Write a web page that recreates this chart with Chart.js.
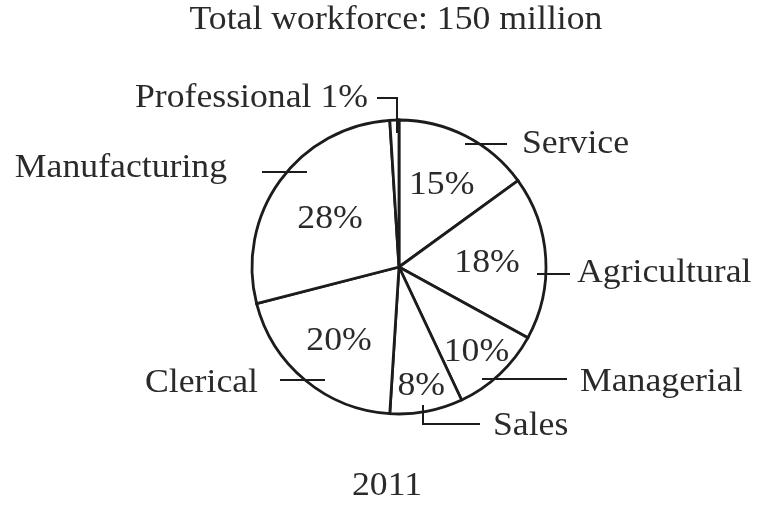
<!DOCTYPE html>
<html>
<head>
<meta charset="utf-8">
<script src="https://cdn.jsdelivr.net/npm/chart.js@4.4.1/dist/chart.umd.min.js"></script>
<style>
  html, body { margin: 0; padding: 0; background: #ffffff; }
  #wrap { width: 758px; height: 508px; }
</style>
</head>
<body>
<div id="wrap"><canvas id="c" width="758" height="508"></canvas></div>
<script>
// ---- data ----
const categories = ['Service', 'Agricultural', 'Managerial', 'Sales', 'Clerical', 'Manufacturing', 'Professional'];
const shares = [15, 18, 10, 8, 20, 28, 1];
const percentLabels = ['15%', '18%', '10%', '8%', '20%', '28%', ''];
const outsideLabels = ['Service', 'Agricultural', 'Managerial', 'Sales', 'Clerical', 'Manufacturing', 'Professional 1%'];
const titleText = 'Total workforce: 150 million';
const yearText = '2011';

// ---- layout (label placement relative to pie centre) ----
const FONT = '34px "Liberation Serif", "Times New Roman", serif';
const TEXT_SCALE_X = 1.05;
const TEXT_COLOR = '#2a2a2a';
const LINE_COLOR = '#1c1c1c';
const pctRadius = [0.64, 0.60, 0.77, 0.81, 0.64, 0.58, 0];
const leaders = [
  { pts: [[66, -123], [108, -123]], text: [123, -114], align: 'left' },
  { pts: [[138, 7], [171, 7]], text: [178, 15], align: 'left' },
  { pts: [[83, 112], [168, 112]], text: [181, 124], align: 'left' },
  { pts: [[24, 138], [24, 157], [81, 157]], text: [94, 168], align: 'left' },
  { pts: [[-119, 113], [-74, 113]], text: [-141, 125], align: 'right' },
  { pts: [[-137, -95], [-92, -95]], text: [-172, -90], align: 'right' },
  { pts: [[-2, -134], [-2, -169], [-22, -169]], text: [-31, -160], align: 'right' }
];

function drawText(ctx, str, x, y, align) {
  ctx.save();
  ctx.translate(x, y);
  ctx.scale(TEXT_SCALE_X, 1);
  ctx.textAlign = align;
  ctx.fillText(str, 0, 0);
  ctx.restore();
}

const labelPlugin = {
  id: 'pieLabels',
  afterDraw(chart) {
    const ctx = chart.ctx;
    const arcs = chart.getDatasetMeta(0).data;
    if (!arcs.length) return;
    const cx = arcs[0].x, cy = arcs[0].y, R = arcs[0].outerRadius;
    ctx.save();
    ctx.font = FONT;
    ctx.fillStyle = TEXT_COLOR;
    ctx.textBaseline = 'alphabetic';
    // percentages inside slices
    arcs.forEach((arc, i) => {
      if (!percentLabels[i]) return;
      const mid = (arc.startAngle + arc.endAngle) / 2;
      const x = cx + Math.cos(mid) * R * pctRadius[i];
      const y = cy + Math.sin(mid) * R * pctRadius[i];
      drawText(ctx, percentLabels[i], x, y + 11, 'center');
    });
    // leader lines and category names
    ctx.strokeStyle = LINE_COLOR;
    ctx.lineWidth = 2;
    leaders.forEach((L, i) => {
      ctx.beginPath();
      L.pts.forEach((p, k) => {
        if (k === 0) ctx.moveTo(cx + p[0], cy + p[1]);
        else ctx.lineTo(cx + p[0], cy + p[1]);
      });
      ctx.stroke();
      drawText(ctx, outsideLabels[i], cx + L.text[0], cy + L.text[1], L.align);
    });
    // title and year
    drawText(ctx, titleText, cx - 3, 29, 'center');
    drawText(ctx, yearText, cx - 12, 495, 'center');
    ctx.restore();
  }
};

new Chart(document.getElementById('c'), {
  type: 'pie',
  data: {
    labels: categories,
    datasets: [{
      data: shares,
      backgroundColor: '#ffffff',
      borderColor: LINE_COLOR,
      borderWidth: 2.8,
      borderJoinStyle: 'miter'
    }]
  },
  options: {
    responsive: false,
    animation: false,
    events: [],
    radius: 147,
    layout: { padding: { left: 100, right: 60, top: 60, bottom: 34 } },
    plugins: {
      legend: { display: false },
      tooltip: { enabled: false },
      title: { display: false }
    }
  },
  plugins: [labelPlugin]
});
</script>
</body>
</html>
